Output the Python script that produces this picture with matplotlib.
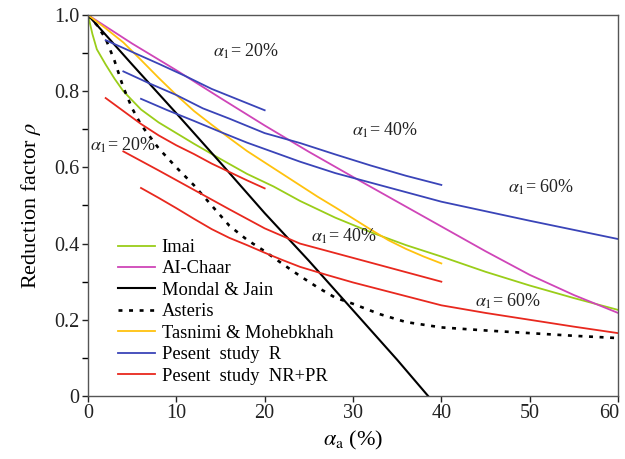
import matplotlib
matplotlib.use('Agg')
import matplotlib.pyplot as plt
from matplotlib.ticker import MultipleLocator, FuncFormatter
from matplotlib.transforms import ScaledTranslation

plt.rcParams['font.family'] = ['Liberation Serif', 'DejaVu Serif']
plt.rcParams['mathtext.fontset'] = 'stix'

# Imai
imai_x = [0, 0.5, 1, 2, 3, 4, 6, 8, 10, 12, 15, 18, 21, 24, 28, 32, 36, 40, 45, 50, 55, 60]
imai_y = [1.0, 0.95, 0.91, 0.87, 0.833, 0.8, 0.752, 0.718, 0.69, 0.662, 0.622, 0.583, 0.55,
          0.512, 0.468, 0.43, 0.396, 0.366, 0.326, 0.29, 0.257, 0.226]

# Al-Chaar
chaar_x = [0, 5, 10, 15, 20, 25, 30, 35, 40, 45, 50, 55, 60]
chaar_y = [1.0, 0.925, 0.855, 0.782, 0.71, 0.641, 0.575, 0.51, 0.445, 0.38, 0.318, 0.265, 0.218]

# Mondal & Jain
mondal_x = [0, 5, 10, 15, 20, 25, 30, 35, 38.5]
mondal_y = [1.0, 0.87, 0.742, 0.612, 0.48, 0.355, 0.225, 0.095, 0.0]

# Asteris
asteris_x = [0, 1, 2, 3, 4, 5, 6, 8, 10, 12, 14, 16, 18, 20, 22, 24, 26, 28, 30, 33, 36, 40,
             45, 50, 55, 60]
asteris_y = [1.0, 0.974, 0.938, 0.88, 0.81, 0.755, 0.712, 0.65, 0.6, 0.553, 0.5, 0.447, 0.41,
             0.38, 0.347, 0.315, 0.285, 0.258, 0.242, 0.215, 0.194, 0.18, 0.172, 0.165, 0.158,
             0.152]

# Tasnimi & Mohebkhah
tasnimi_x = [0, 2, 4, 6, 8, 10, 12, 14, 16, 18, 20, 22, 24, 26, 28, 30, 32, 34, 36, 38, 40]
tasnimi_y = [1.0, 0.965, 0.928, 0.882, 0.835, 0.79, 0.748, 0.712, 0.677, 0.643, 0.613, 0.583,
             0.553, 0.523, 0.495, 0.466, 0.437, 0.409, 0.386, 0.366, 0.348]

# present study, R (alpha_1 = 20 / 40 / 60 %)
r20_x = [2, 5, 8, 11, 14, 17, 20]
r20_y = [0.934, 0.903, 0.872, 0.84, 0.806, 0.778, 0.75]
r40_x = [4, 7, 10, 13, 16, 20, 24, 28, 32, 36, 40]
r40_y = [0.852, 0.82, 0.79, 0.755, 0.728, 0.69, 0.664, 0.634, 0.605, 0.578, 0.554]
r60_x = [6, 9, 12, 15, 18, 21, 24, 28, 32, 36, 40, 45, 50, 55, 60]
r60_y = [0.78, 0.75, 0.722, 0.693, 0.665, 0.64, 0.615, 0.585, 0.56, 0.535, 0.51, 0.485, 0.46,
         0.436, 0.412]

# present study, NR+PR (alpha_1 = 20 / 40 / 60 %)
nr20_x = [2, 4, 6, 8, 10, 12, 14, 16, 18, 20]
nr20_y = [0.782, 0.748, 0.714, 0.684, 0.658, 0.635, 0.61, 0.588, 0.566, 0.545]
nr40_x = [4, 8, 12, 16, 20, 24, 28, 32, 36, 40]
nr40_y = [0.642, 0.592, 0.541, 0.49, 0.44, 0.4, 0.375, 0.35, 0.325, 0.3]
nr60_x = [6, 8, 10, 12, 14, 16, 18, 20, 22, 24, 27, 30, 33, 36, 40, 45, 50, 55, 60]
nr60_y = [0.546, 0.52, 0.493, 0.465, 0.438, 0.415, 0.396, 0.376, 0.357, 0.339, 0.318, 0.298,
          0.28, 0.262, 0.238, 0.218, 0.2, 0.182, 0.165]

GREEN = '#9acd19'
MAGENTA = '#cf45b8'
ORANGE = '#ffc20e'
BLUE = '#3a44b8'
RED = '#e8281e'
lw = 1.3

fig = plt.figure(figsize=(6.25, 4.59), dpi=100)
ax = fig.add_axes([0.1408, 0.1373, 0.848, 0.830])

ax.plot(imai_x, imai_y, color=GREEN, lw=lw, label='Imai')
ax.plot(chaar_x, chaar_y, color=MAGENTA, lw=lw, label='AI-Chaar')
ax.plot(mondal_x, mondal_y, color='black', lw=lw + 0.2, label='Mondal & Jain')
ax.plot(asteris_x, asteris_y, color='black', lw=lw + 0.6, ls=(0, (1.5, 2.5)), label='Asteris')
ax.plot(tasnimi_x, tasnimi_y, color=ORANGE, lw=lw, label='Tasnimi & Mohebkhah')
ax.plot(r20_x, r20_y, color=BLUE, lw=lw, label='Pesent  study  R')
ax.plot(r40_x, r40_y, color=BLUE, lw=lw)
ax.plot(r60_x, r60_y, color=BLUE, lw=lw)
ax.plot(nr20_x, nr20_y, color=RED, lw=lw, label='Pesent  study  NR+PR')
ax.plot(nr40_x, nr40_y, color=RED, lw=lw)
ax.plot(nr60_x, nr60_y, color=RED, lw=lw)

# alpha_1 labels next to each group of curves
lab_kw = dict(fontsize=13, color='#222222', va='center', ha='left')
ax.text(14.2, 0.905, r'$\alpha_1$= 20%', **lab_kw)
ax.text(0.2, 0.658, r'$\alpha_1$= 20%', **lab_kw)
ax.text(29.9, 0.698, r'$\alpha_1$= 40%', **lab_kw)
ax.text(47.5, 0.547, r'$\alpha_1$= 60%', **lab_kw)
ax.text(25.2, 0.418, r'$\alpha_1$= 40%', **lab_kw)
ax.text(43.8, 0.248, r'$\alpha_1$= 60%', **lab_kw)

ax.set_xlim(0, 60)
ax.set_ylim(0, 1.0)
ax.xaxis.set_major_locator(MultipleLocator(10))
ax.yaxis.set_major_locator(MultipleLocator(0.2))
ax.yaxis.set_minor_locator(MultipleLocator(0.1))
ax.yaxis.set_major_formatter(FuncFormatter(lambda v, p: '0' if abs(v) < 1e-9 else f'{v:.1f}'))
ax.tick_params(axis='both', which='major', direction='out', length=4, width=1,
               labelsize=14.5, colors='#222222', pad=2)
ax.tick_params(axis='y', which='minor', direction='out', length=4, width=1)

for sp in ax.spines.values():
    sp.set_color('#555555')
    sp.set_linewidth(1.0)

ax.set_xlabel(r'$\alpha_{\mathrm{a}}$ (%)', fontsize=16, labelpad=4)
ax.set_ylabel(r'Reduction factor $\rho$', fontsize=16, labelpad=8)

leg = ax.legend(loc='upper left', bbox_to_anchor=(0.057, 0.412), frameon=False, fontsize=13.3,
                handlelength=2.0, handletextpad=0.35, labelspacing=0.24, borderpad=0,
                borderaxespad=0)

# keep the "60" label inside the figure edge
fig.canvas.draw()
last = ax.xaxis.get_major_ticks()[-1].label1
for t in ax.xaxis.get_major_ticks():
    if abs(t.get_loc() - 60) < 1e-6:
        last = t.label1
last.set_transform(last.get_transform() + ScaledTranslation(-6 / 72, 0, fig.dpi_scale_trans))

fig.savefig('out.png', dpi=100)
